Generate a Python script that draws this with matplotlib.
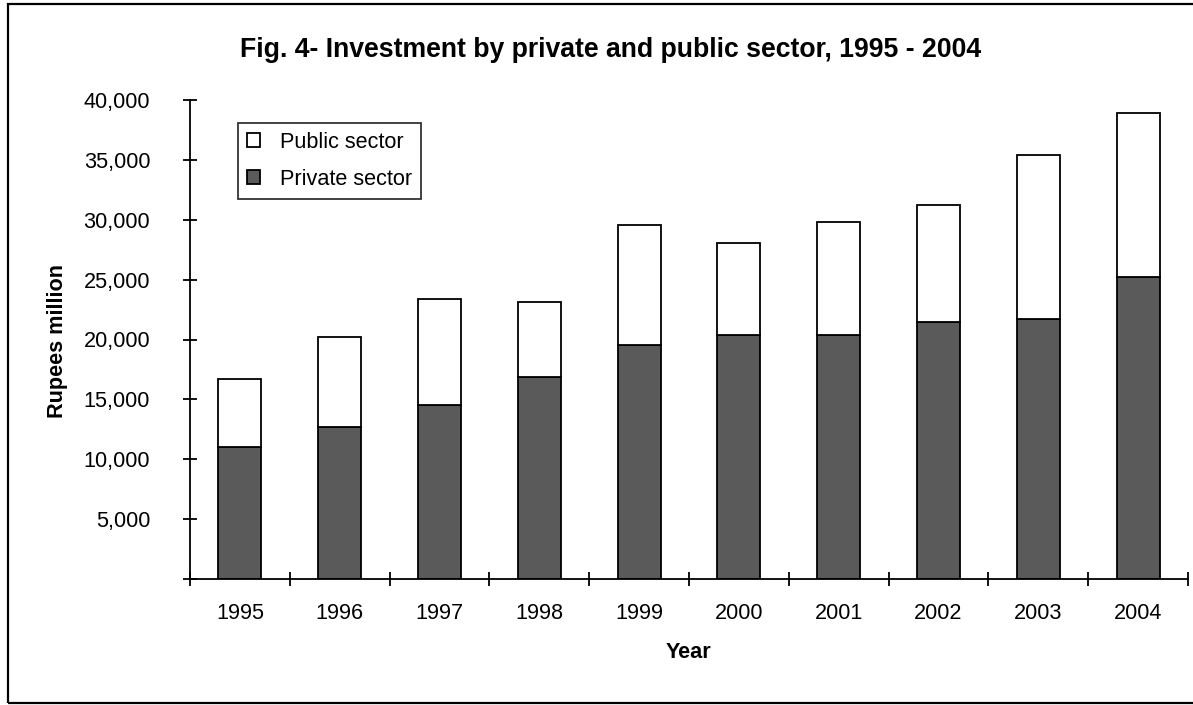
import matplotlib
matplotlib.use('Agg')
import matplotlib.pyplot as plt
from matplotlib.patches import Rectangle
from matplotlib.ticker import FuncFormatter, FixedLocator

# Investment, Rupees million
years = ['1995', '1996', '1997', '1998', '1999', '2000', '2001', '2002', '2003', '2004']
private_sector = [11000, 12700, 14500, 16900, 19500, 20400, 20400, 21500, 21700, 25200]
total_investment = [16700, 20200, 23400, 23100, 29600, 28100, 29800, 31200, 35400, 38900]
public_sector = [t - p for t, p in zip(total_investment, private_sector)]

plt.rcParams['font.family'] = ['Liberation Sans', 'DejaVu Sans']
FS = 15.6

W, H = 1193, 705
fig = plt.figure(figsize=(W / 100, H / 100), dpi=100)
fig.patch.set_facecolor('white')

# outer frame (right edge runs off the canvas)
fig.patches.append(Rectangle((8 / W, 1 - 703 / H), 1.2, (703 - 4) / H,
                             transform=fig.transFigure, fill=False,
                             edgecolor='black', linewidth=1.6))

ax = fig.add_axes([190 / W, 1 - 579 / H, (1188 - 190) / W, (579 - 100) / H])
x = list(range(len(years)))
ax.bar(x, private_sector, width=0.43, color='#5a5a5a', edgecolor='black',
       linewidth=1.3, label='Private sector', zorder=2)
ax.bar(x, public_sector, bottom=private_sector, width=0.43, color='white',
       edgecolor='black', linewidth=1.3, label='Public sector', zorder=2)

ax.set_xlim(-0.5, len(years) - 0.5)
ax.set_ylim(0, 40000)
ax.set_yticks(range(0, 40001, 5000))
ax.yaxis.set_major_formatter(FuncFormatter(lambda v, _: '' if v == 0 else f'{int(v):,}'))
ax.xaxis.set_major_locator(FixedLocator([i - 0.5 for i in range(len(years) + 1)]))
ax.xaxis.set_minor_locator(FixedLocator(x))
ax.set_xticklabels([])
ax.set_xticklabels(years, minor=True)

for side in ('top', 'right'):
    ax.spines[side].set_visible(False)
for side in ('left', 'bottom'):
    ax.spines[side].set_linewidth(1.3)

ax.tick_params(axis='y', which='major', direction='inout', length=9.4, width=1.3,
               labelsize=FS, pad=24)
ax.tick_params(axis='x', which='major', direction='inout', length=9.4, width=1.3)
ax.tick_params(axis='x', which='minor', length=0, labelsize=FS, pad=17)

ax.set_xlabel('Year', fontsize=FS, fontweight='bold', va='center')
ax.xaxis.set_label_coords(0.5, (579 - 653) / 479)
ax.set_ylabel('Rupees million', fontsize=FS, fontweight='bold', va='center')
ax.yaxis.set_label_coords((57 - 190) / 998, (579 - 341) / 479)

fig.text(611 / W, 1 - 50 / H, 'Fig. 4- Investment by private and public sector, 1995 - 2004',
         ha='center', va='center', fontsize=19.2, fontweight='bold')

handles, labels = ax.get_legend_handles_labels()
leg = ax.legend(handles[::-1], labels[::-1], loc='upper left',
                bbox_to_anchor=((238 - 190) / 998, (579 - 123) / 479),
                fontsize=FS, frameon=True, fancybox=False, borderpad=0.4,
                handlelength=0.6, handleheight=0.6, handletextpad=0.95,
                labelspacing=0.75, borderaxespad=0)
leg.get_frame().set_edgecolor('black')
leg.get_frame().set_linewidth(1.3)

fig.savefig('out.png', dpi=100, facecolor='white')
